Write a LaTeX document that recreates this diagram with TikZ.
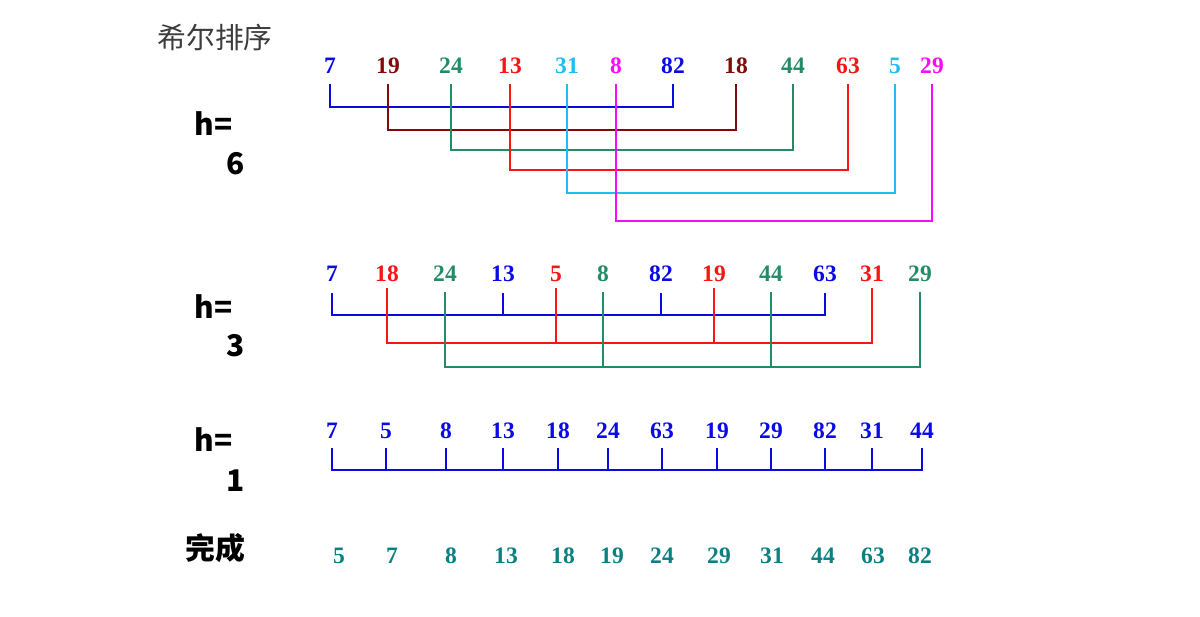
\documentclass[tikz,border=0pt]{standalone}
\usepackage{fontspec}
\newfontfamily\cjk{Noto Sans CJK SC}
\newfontfamily\numfont{Liberation Serif}
\definecolor{cblue}{RGB}{10,10,230}
\definecolor{cmaroon}{RGB}{128,10,10}
\definecolor{cgreen}{RGB}{36,140,100}
\definecolor{cred}{RGB}{250,20,20}
\definecolor{ccyan}{RGB}{30,190,240}
\definecolor{cmagenta}{RGB}{250,10,250}
\definecolor{cteal}{RGB}{10,128,128}
\definecolor{ctitle}{RGB}{60,60,60}

\begin{document}
\begin{tikzpicture}[x=0.02cm, y=-0.02cm,
	num/.style={font=\numfont\fontsize{13.4}{14}\selectfont\bfseries, inner sep=0pt, anchor=base},
	hlab/.style={font=\cjk\fontsize{17}{18}\selectfont\bfseries, inner sep=0pt, anchor=base west},
	bar/.style={line width=1.3pt}]
	\useasboundingbox (0,0) rectangle (1200,616);
	\node[font=\cjk\fontsize{16.4}{18}\selectfont, text=ctitle, inner sep=0pt] (title) at (215,38) {希尔排序};
	% h = 6
	\node[hlab] (h6) at (194,135) {h=};
	\node[hlab] (h6v) at (226,174) {6};
	\node[num, text=cblue] (a1) at (330,73) {7};
	\node[num, text=cmaroon] (a2) at (388,73) {19};
	\node[num, text=cgreen] (a3) at (451,73) {24};
	\node[num, text=cred] (a4) at (510,73) {13};
	\node[num, text=ccyan] (a5) at (567,73) {31};
	\node[num, text=cmagenta] (a6) at (616,73) {8};
	\node[num, text=cblue] (a7) at (673,73) {82};
	\node[num, text=cmaroon] (a8) at (736,73) {18};
	\node[num, text=cgreen] (a9) at (793,73) {44};
	\node[num, text=cred] (a10) at (848,73) {63};
	\node[num, text=ccyan] (a11) at (895,73) {5};
	\node[num, text=cmagenta] (a12) at (932,73) {29};
	\coordinate (top6) at (0,84);
	\coordinate (bar6a) at (0,107);
	\coordinate (bar6b) at (0,130);
	\coordinate (bar6c) at (0,150);
	\coordinate (bar6d) at (0,170);
	\coordinate (bar6e) at (0,193);
	\coordinate (bar6f) at (0,221);
	\draw[bar, cblue] (a1 |- top6) -- (a1 |- bar6a) -| (a7 |- top6);
	\draw[bar, cmaroon] (a2 |- top6) -- (a2 |- bar6b) -| (a8 |- top6);
	\draw[bar, cgreen] (a3 |- top6) -- (a3 |- bar6c) -| (a9 |- top6);
	\draw[bar, cred] (a4 |- top6) -- (a4 |- bar6d) -| (a10 |- top6);
	\draw[bar, ccyan] (a5 |- top6) -- (a5 |- bar6e) -| (a11 |- top6);
	\draw[bar, cmagenta] (a6 |- top6) -- (a6 |- bar6f) -| (a12 |- top6);
	% h = 3
	\node[hlab] (h3) at (194,318) {h=};
	\node[hlab] (h3v) at (226,356) {3};
	\node[num, text=cblue] (b1) at (332,281) {7};
	\node[num, text=cred] (b2) at (387,281) {18};
	\node[num, text=cgreen] (b3) at (445,281) {24};
	\node[num, text=cblue] (b4) at (503,281) {13};
	\node[num, text=cred] (b5) at (556,281) {5};
	\node[num, text=cgreen] (b6) at (603,281) {8};
	\node[num, text=cblue] (b7) at (661,281) {82};
	\node[num, text=cred] (b8) at (714,281) {19};
	\node[num, text=cgreen] (b9) at (771,281) {44};
	\node[num, text=cblue] (b10) at (825,281) {63};
	\node[num, text=cred] (b11) at (872,281) {31};
	\node[num, text=cgreen] (b12) at (920,281) {29};
	\coordinate (top3a) at (0,293);
	\coordinate (top3b) at (0,288);
	\coordinate (top3c) at (0,292);
	\coordinate (bar3a) at (0,315);
	\coordinate (bar3b) at (0,343);
	\coordinate (bar3c) at (0,367);
	\draw[bar, cblue] (b1 |- top3a) -- (b1 |- bar3a) -| (b10 |- top3a);
	\draw[bar, cblue] (b4 |- top3a) -- (b4 |- bar3a);
	\draw[bar, cblue] (b7 |- top3a) -- (b7 |- bar3a);
	\draw[bar, cred] (b2 |- top3b) -- (b2 |- bar3b) -| (b11 |- top3b);
	\draw[bar, cred] (b5 |- top3b) -- (b5 |- bar3b);
	\draw[bar, cred] (b8 |- top3b) -- (b8 |- bar3b);
	\draw[bar, cgreen] (b3 |- top3c) -- (b3 |- bar3c) -| (b12 |- top3c);
	\draw[bar, cgreen] (b6 |- top3c) -- (b6 |- bar3c);
	\draw[bar, cgreen] (b9 |- top3c) -- (b9 |- bar3c);
	% h = 1
	\node[hlab] (h1) at (194,451) {h=};
	\node[hlab] (h1v) at (226,491) {1};
	\node[num, text=cblue] (c1) at (332,438) {7};
	\node[num, text=cblue] (c2) at (386,438) {5};
	\node[num, text=cblue] (c3) at (446,438) {8};
	\node[num, text=cblue] (c4) at (503,438) {13};
	\node[num, text=cblue] (c5) at (558,438) {18};
	\node[num, text=cblue] (c6) at (608,438) {24};
	\node[num, text=cblue] (c7) at (662,438) {63};
	\node[num, text=cblue] (c8) at (717,438) {19};
	\node[num, text=cblue] (c9) at (771,438) {29};
	\node[num, text=cblue] (c10) at (825,438) {82};
	\node[num, text=cblue] (c11) at (872,438) {31};
	\node[num, text=cblue] (c12) at (922,438) {44};
	\coordinate (top1) at (0,448);
	\coordinate (bar1) at (0,470);
	\draw[bar, cblue] (c1 |- top1) -- (c1 |- bar1) -| (c12 |- top1);
	\draw[bar, cblue] (c2 |- top1) -- (c2 |- bar1);
	\draw[bar, cblue] (c3 |- top1) -- (c3 |- bar1);
	\draw[bar, cblue] (c4 |- top1) -- (c4 |- bar1);
	\draw[bar, cblue] (c5 |- top1) -- (c5 |- bar1);
	\draw[bar, cblue] (c6 |- top1) -- (c6 |- bar1);
	\draw[bar, cblue] (c7 |- top1) -- (c7 |- bar1);
	\draw[bar, cblue] (c8 |- top1) -- (c8 |- bar1);
	\draw[bar, cblue] (c9 |- top1) -- (c9 |- bar1);
	\draw[bar, cblue] (c10 |- top1) -- (c10 |- bar1);
	\draw[bar, cblue] (c11 |- top1) -- (c11 |- bar1);
	% done
	\node[hlab, anchor=center] (done) at (215,548) {完成};
	\node[num, text=cteal] (d1) at (339,563) {5};
	\node[num, text=cteal] (d2) at (392,563) {7};
	\node[num, text=cteal] (d3) at (451,563) {8};
	\node[num, text=cteal] (d4) at (506,563) {13};
	\node[num, text=cteal] (d5) at (563,563) {18};
	\node[num, text=cteal] (d6) at (612,563) {19};
	\node[num, text=cteal] (d7) at (662,563) {24};
	\node[num, text=cteal] (d8) at (719,563) {29};
	\node[num, text=cteal] (d9) at (772,563) {31};
	\node[num, text=cteal] (d10) at (823,563) {44};
	\node[num, text=cteal] (d11) at (873,563) {63};
	\node[num, text=cteal] (d12) at (920,563) {82};
\end{tikzpicture}
\end{document}
